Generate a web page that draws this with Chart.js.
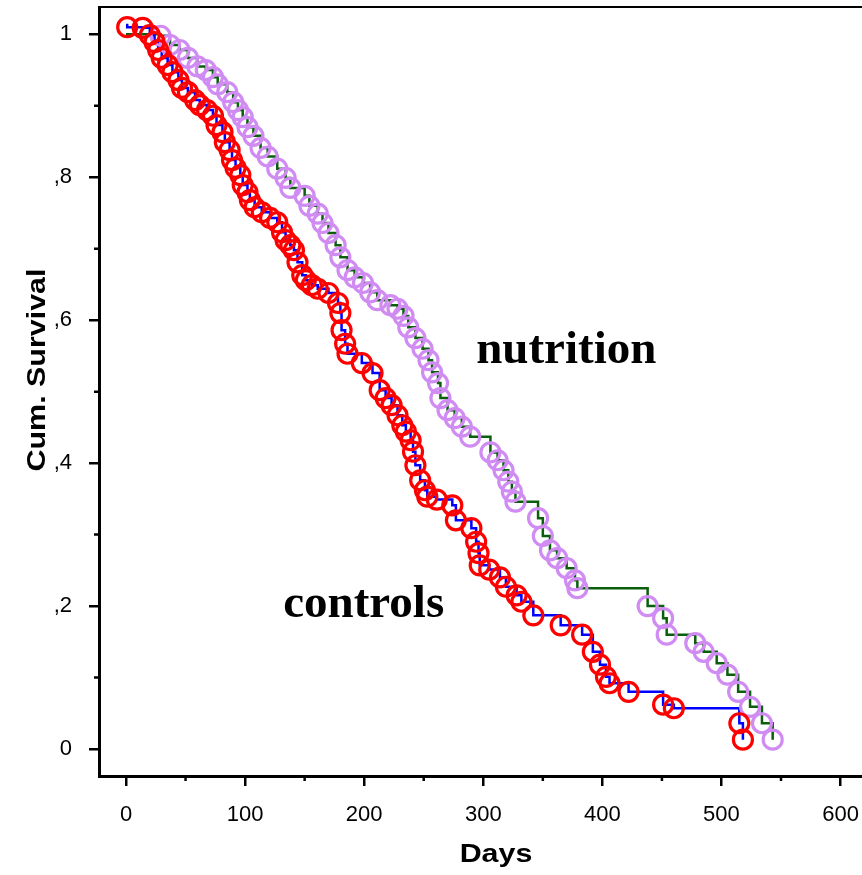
<!DOCTYPE html>
<html>
<head>
<meta charset="utf-8">
<script src="https://cdn.jsdelivr.net/npm/chart.js@4.4.0/dist/chart.umd.min.js"></script>
<style>
  html, body { margin: 0; padding: 0; background: #fff; overflow: hidden; }
  #wrap { width: 862px; height: 875px; }
</style>
</head>
<body>
<div id="wrap"><canvas id="km" width="862" height="875"></canvas></div>
<script>
// Kaplan-Meier survival, controls vs nutrition group
const ctrlDays = [1, 14, 20, 24, 27, 30, 35, 39, 44, 47, 52, 58, 62, 68, 73, 76, 81, 83, 87, 89,
  92, 96, 98, 102, 104, 108, 114, 121, 127, 131, 134, 138, 141, 144, 148, 151, 156, 161, 170, 178,
  180, 181, 184, 186, 198, 207, 213, 218, 223, 228, 232, 235, 239, 241, 243, 247, 251, 253, 261, 274,
  277, 290, 294, 296, 297, 305, 314, 319, 328, 332, 342, 365, 383, 392, 398, 403, 406, 422, 451, 460,
  515, 518];
const ctrlSurv = [1.010, 1.009, 0.999, 0.989, 0.978, 0.967, 0.957, 0.947, 0.936, 0.925, 0.919, 0.908, 0.901, 0.894, 0.886, 0.873, 0.863, 0.849, 0.838, 0.824,
  0.813, 0.803, 0.789, 0.779, 0.768, 0.758, 0.751, 0.743, 0.737, 0.723, 0.712, 0.705, 0.698, 0.681, 0.663, 0.656, 0.649, 0.644, 0.638, 0.624,
  0.610, 0.586, 0.567, 0.553, 0.540, 0.526, 0.502, 0.491, 0.481, 0.467, 0.453, 0.444, 0.432, 0.416, 0.397, 0.376, 0.362, 0.353, 0.349, 0.341,
  0.320, 0.309, 0.290, 0.274, 0.257, 0.251, 0.240, 0.227, 0.215, 0.206, 0.187, 0.173, 0.160, 0.136, 0.118, 0.101, 0.092, 0.080, 0.062, 0.057,
  0.036, 0.013];

const nutrDays = [29, 37, 45, 52, 60, 67, 73, 77, 85, 90, 94, 98, 102, 107, 113, 119, 127, 134, 138, 150,
  154, 161, 165, 170, 176, 180, 186, 192, 199, 205, 211, 222, 228, 233, 237, 243, 249, 254, 257, 262,
  264, 270, 276, 282, 289, 306, 312, 317, 321, 324, 327, 346, 350, 356, 362, 370, 377, 379, 438, 451,
  454, 478, 485, 496, 505, 514, 524, 534, 543];
const nutrSurv = [0.998, 0.985, 0.978, 0.967, 0.955, 0.950, 0.940, 0.930, 0.919, 0.905, 0.894, 0.884, 0.870, 0.858, 0.841, 0.829, 0.812, 0.799, 0.785, 0.774,
  0.760, 0.749, 0.736, 0.722, 0.705, 0.688, 0.670, 0.660, 0.652, 0.639, 0.628, 0.621, 0.616, 0.606, 0.590, 0.575, 0.560, 0.544, 0.527, 0.512,
  0.491, 0.474, 0.463, 0.451, 0.437, 0.415, 0.404, 0.390, 0.374, 0.360, 0.346, 0.323, 0.298, 0.278, 0.267, 0.253, 0.236, 0.225, 0.200, 0.183,
  0.160, 0.148, 0.136, 0.120, 0.104, 0.080, 0.059, 0.036, 0.013];

const xTickLabels = ['0', '100', '200', '300', '400', '500', '600'];
const yTickLabels = ['0', ',2', ',4', ',6', ',8', '1'];
const groupNames = ['controls', 'nutrition'];

const SANS = '"Liberation Sans", Arial, sans-serif';
const SERIF = '"Liberation Serif", "Times New Roman", serif';

const pts = (days, surv) => days.map((d, i) => ({ x: d, y: surv[i] }));
// step curve starts at day 0 with the first plotted level
const curve = (days, surv, start) => [{ x: 0, y: start }].concat(pts(days, surv));

// wide bold sans used for the axis titles
function wideText(ctx, text, cx, cy, angle) {
  ctx.save();
  ctx.translate(cx, cy);
  ctx.rotate(angle);
  ctx.scale(1.17, 1);
  ctx.fillText(text, 0, 0);
  ctx.restore();
}

// minor ticks, top frame line, axis titles and group names
const decor = {
  id: 'decor',
  afterDraw(chart) {
    const { ctx, chartArea: a, scales: { x, y } } = chart;
    ctx.save();
    ctx.strokeStyle = '#000';
    ctx.lineWidth = 2.5;
    ctx.beginPath();
    x.ticks.forEach(t => {
      if (t.value % 100 !== 0) {
        const px = x.getPixelForValue(t.value);
        ctx.moveTo(px, a.bottom);
        ctx.lineTo(px, a.bottom + 5);
      }
    });
    y.ticks.forEach(t => {
      if (Math.round(t.value * 10) % 2 !== 0) {
        const py = y.getPixelForValue(t.value);
        ctx.moveTo(a.left, py);
        ctx.lineTo(a.left - 5, py);
      }
    });
    ctx.stroke();

    ctx.lineWidth = 2;
    ctx.beginPath();
    ctx.moveTo(a.left, a.top);
    ctx.lineTo(a.right, a.top);
    ctx.stroke();

    ctx.fillStyle = '#000';
    ctx.font = 'bold 26px ' + SANS;
    ctx.textAlign = 'center';
    ctx.textBaseline = 'alphabetic';
    wideText(ctx, 'Days', 496, 862, 0);
    wideText(ctx, 'Cum. Survival', 45, 370, -Math.PI / 2);

    ctx.font = 'bold 47px ' + SERIF;
    ctx.textAlign = 'left';
    ctx.fillText(groupNames[0], x.getPixelForValue(132), y.getPixelForValue(0.185));
    ctx.fillText(groupNames[1], x.getPixelForValue(294), y.getPixelForValue(0.540));
    ctx.restore();
  }
};

new Chart(document.getElementById('km'), {
  type: 'scatter',
  data: {
    datasets: [
      {
        label: 'controls',
        data: pts(ctrlDays, ctrlSurv),
        showLine: false,
        pointRadius: 9.5,
        pointBorderWidth: 3.2,
        pointBorderColor: '#ff0000',
        pointBackgroundColor: 'rgba(0,0,0,0)'
      },
      {
        label: 'nutrition',
        data: pts(nutrDays, nutrSurv),
        showLine: false,
        pointRadius: 9.5,
        pointBorderWidth: 3.2,
        pointBorderColor: '#d08cf2',
        pointBackgroundColor: 'rgba(0,0,0,0)'
      },
      {
        label: 'controls curve',
        data: curve(ctrlDays, ctrlSurv, 1.013),
        showLine: true,
        stepped: 'before',
        borderColor: '#0000ff',
        borderWidth: 2.5,
        pointRadius: 0
      },
      {
        label: 'nutrition curve',
        data: curve(nutrDays, nutrSurv, 1.0),
        showLine: true,
        stepped: 'before',
        borderColor: '#0b5e0b',
        borderWidth: 2.5,
        pointRadius: 0
      }
    ]
  },
  options: {
    responsive: false,
    animation: false,
    devicePixelRatio: 1,
    layout: { autoPadding: false, padding: { top: 7, right: 0, left: 0, bottom: 0 } },
    plugins: { legend: { display: false }, tooltip: { enabled: false } },
    scales: {
      x: {
        type: 'linear',
        min: -22.67,
        max: 618,
        afterFit: s => {
          s.height = 99;
          s.paddingLeft = 0;
          s.paddingRight = 0;
        },
        border: { color: '#000', width: 3 },
        grid: {
          drawOnChartArea: false,
          tickLength: 10,
          lineWidth: 2.5,
          tickColor: c => (c.tick && c.tick.value % 100 === 0 ? '#000' : 'rgba(0,0,0,0)')
        },
        ticks: {
          stepSize: 50,
          includeBounds: false,
          autoSkip: false,
          maxRotation: 0,
          padding: 16,
          color: '#000',
          font: { family: SANS, size: 22 },
          callback: v => (v % 100 === 0 ? xTickLabels[v / 100] : '')
        }
      },
      y: {
        type: 'linear',
        min: -0.0378,
        max: 1.0382,
        afterFit: s => {
          s.width = 99;
          s.paddingTop = 0;
          s.paddingBottom = 0;
        },
        border: { color: '#000', width: 3 },
        grid: {
          drawOnChartArea: false,
          tickLength: 10,
          lineWidth: 2.5,
          tickColor: c => (c.tick && Math.round(c.tick.value * 10) % 2 === 0 ? '#000' : 'rgba(0,0,0,0)')
        },
        ticks: {
          stepSize: 0.1,
          includeBounds: false,
          autoSkip: false,
          padding: 17,
          color: '#000',
          font: { family: SANS, size: 22 },
          callback: v => {
            const k = Math.round(v * 10);
            return k % 2 === 0 ? yTickLabels[k / 2] : '';
          }
        }
      }
    }
  },
  plugins: [decor]
});
</script>
</body>
</html>
